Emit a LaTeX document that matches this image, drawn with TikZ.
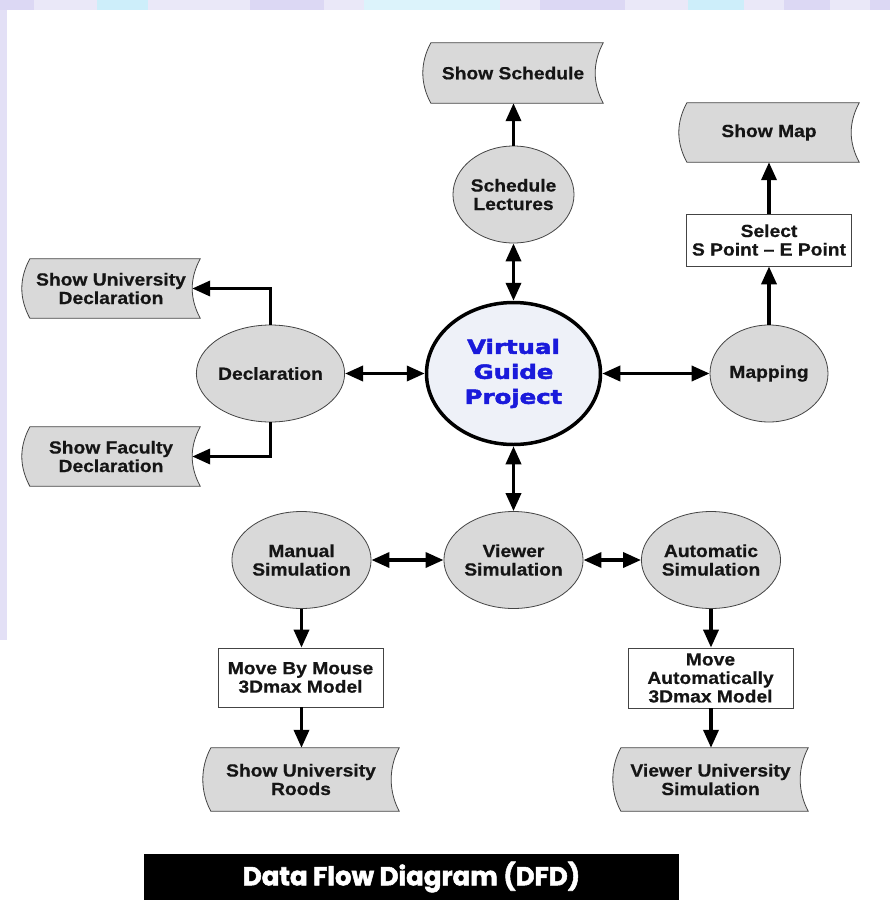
\documentclass[tikz,border=0pt]{standalone}
\usepackage{fontspec}
\setmainfont{Liberation Sans}[FakeStretch=1.1, BoldFeatures={FakeBold=0.6}]
\newfontfamily\vgfont{DejaVu Sans}[FakeStretch=1.25, BoldFeatures={FakeBold=2.5}]
\newfontfamily\titlefont{Poppins}[BoldFeatures={FakeBold=2}]
\usetikzlibrary{arrows.meta,shapes.geometric,calc,backgrounds}
\definecolor{procfill}{HTML}{D9D9D9}
\definecolor{procline}{HTML}{444444}
\definecolor{vgfill}{HTML}{EEF1F8}
\definecolor{vgblue}{HTML}{1A1ADB}
\definecolor{txt}{HTML}{151515}
\definecolor{lav}{HTML}{DCD8F4}
\definecolor{cyn}{HTML}{CDEEFA}
\newcommand\drawtape[1]{%
  \draw[tapeline] ($(#1.north west)+(8,0)$)
    .. controls ($(#1.north west)+(-2.67,20)$) and ($(#1.south west)+(-2.67,-20)$) .. ($(#1.south west)+(8,0)$)
    -- (#1.south east)
    .. controls ($(#1.south east)+(-10.67,-20)$) and ($(#1.north east)+(-10.67,20)$) .. (#1.north east)
    -- cycle;}
\begin{document}
\begin{tikzpicture}[x=1pt,y=-1pt,
  lbl/.style={font=\fontsize{17.5}{18.5}\selectfont\bfseries, text=txt, align=center},
  proc/.style={lbl, ellipse, draw=procline, fill=procfill, line width=0.8pt,
    minimum width=118, minimum height=97, inner sep=0pt},
  tape/.style={lbl, rectangle, draw=none, inner sep=0pt},
  tapeline/.style={draw=procline, fill=procfill, line width=0.8pt},
  boxn/.style={lbl, rectangle, draw=procline, fill=white, line width=0.8pt,
    minimum width=165, inner sep=0pt},
  flow/.style={line width=3.6pt, -{Triangle[width=15pt,length=18pt]}},
  bi/.style={line width=3.6pt, {Triangle[width=15pt,length=18pt]}-{Triangle[width=15pt,length=18pt]}},
]
\useasboundingbox (0,0) rectangle (890,900);
\begin{scope}[on background layer]
  \fill[white] (0,0) rectangle (890,900);
  \fill[lav!60] (0,0) rectangle (890,10);
  \fill[lav] (0,0) rectangle (34,10);
  \fill[cyn] (97,0) rectangle (148,10);
  \fill[lav] (250,0) rectangle (324,10);
  \fill[cyn!70] (364,0) rectangle (500,10);
  \fill[lav] (540,0) rectangle (625,10);
  \fill[cyn] (688,0) rectangle (744,10);
  \fill[lav] (784,0) rectangle (830,10);
  \fill[lav] (870,0) rectangle (890,10);
  \fill[lav!80] (0,10) rectangle (7,640);
\end{scope}

% central process
\node[ellipse, draw=black, line width=3.5pt, fill=vgfill, minimum width=174, minimum height=142, inner sep=0pt,
  align=center, text=vgblue, font=\vgfont\bfseries\fontsize{19.5}{25}\selectfont]
  (vgp) at (513.5,373.5) {Virtual\\Guide\\Project};

% processes
\node[proc] (sched) at (513.5,194.5) {Schedule\\Lectures};
\node[proc] (decl) at (270.5,373.5) {Declaration};
\node[proc] (mapping) at (769,373.5) {Mapping};
\node[proc] (manual) at (301.5,560) {Manual\\Simulation};
\node[proc] (viewer) at (513.5,560) {Viewer\\Simulation};
\node[proc] (auto) at (711,560) {Automatic\\Simulation};

% boxes
\node[boxn, minimum height=52] (select) at (769,240) {Select\\S Point -- E Point};
\node[boxn, minimum height=59] (mbm) at (300.5,677.5) {Move By Mouse\\3Dmax Model};
\node[boxn, minimum height=60] (mam) at (710.5,678) {Move\\Automatically\\3Dmax Model};

% data stores
\node[tape, minimum width=180, minimum height=60] (showsched) at (513,73) {Show Schedule};
\node[tape, minimum width=180, minimum height=59] (showmap) at (769,132.5) {Show Map};
\node[tape, minimum width=178, minimum height=59] (sud) at (111,288.5) {Show University\\Declaration};
\node[tape, minimum width=178, minimum height=59] (sfd) at (111,456.5) {Show Faculty\\Declaration};
\node[tape, minimum width=196, minimum height=63] (sur) at (301,779.5) {Show University\\Roods};
\node[tape, minimum width=195, minimum height=63] (vus) at (710.5,779.5) {Viewer University\\Simulation};

\begin{scope}[on background layer]
  \drawtape{showsched}
  \drawtape{showmap}
  \drawtape{sud}
  \drawtape{sfd}
  \drawtape{sur}
  \drawtape{vus}
\end{scope}

% title
\node[rectangle, fill=black, minimum width=535, minimum height=46, inner sep=0pt,
  text=white, font=\titlefont\bfseries\fontsize{26}{30}\selectfont]
  (title) at (411.5,877) {Data Flow Diagram (DFD)};

% connectors
\draw[flow] (sched.north) -- (showsched.south -| sched.north);
\draw[bi] (sched.south) -- (sched.south |- vgp.north);
\draw[bi] (decl.east) -- (vgp.west);
\draw[bi] (vgp.east) -- (mapping.west);
\draw[flow] (mapping.north) -- (select.south);
\draw[flow] (select.north) -- (showmap.south);
\draw[flow] (decl.north) |- ($(sud.east)+(-8,0)$);
\draw[flow] (decl.south) |- ($(sfd.east)+(-8,0)$);
\draw[bi] (vgp.south) -- (viewer.north);
\draw[bi] (manual.east) -- (viewer.west);
\draw[bi] (viewer.east) -- (auto.west);
\draw[flow] (manual.south) -- (mbm.north -| manual.south);
\draw[flow] (mbm.south -| manual.south) -- (sur.north -| manual.south);
\draw[flow] (auto.south) -- (mam.north -| auto.south);
\draw[flow] (mam.south -| auto.south) -- (vus.north -| auto.south);
\end{tikzpicture}
\end{document}
